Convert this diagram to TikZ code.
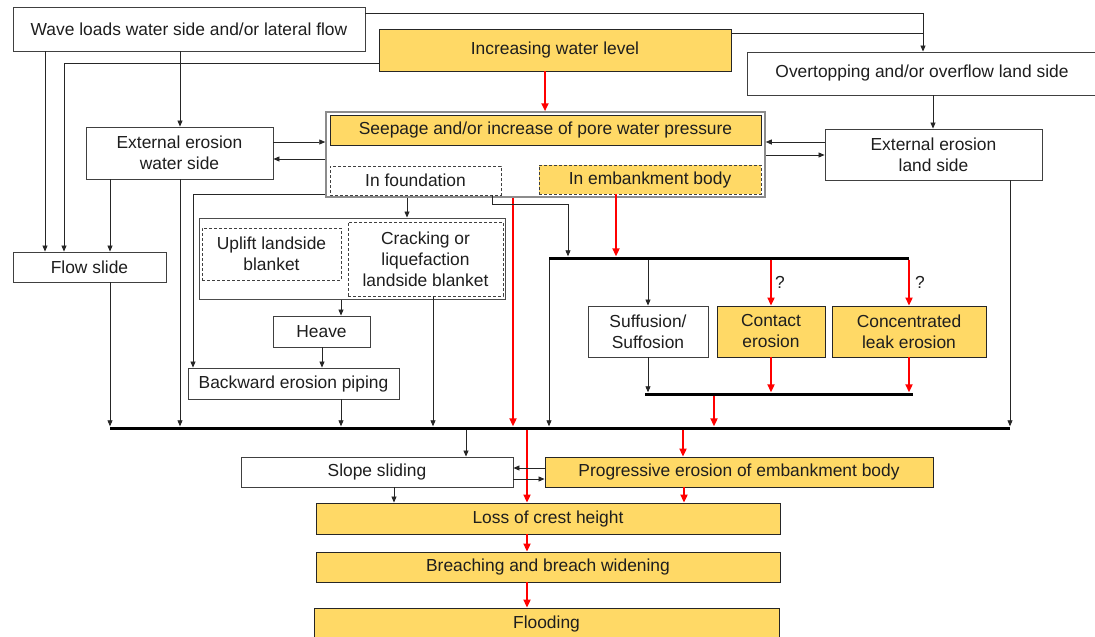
\documentclass[tikz,border=0pt]{standalone}
\usepackage{fontspec}
\setmainfont{Liberation Sans}
\usetikzlibrary{arrows.meta}
\definecolor{yel}{RGB}{255,217,102}
\definecolor{txt}{RGB}{30,30,30}
\begin{document}
\begin{tikzpicture}[x=1pt,y=-1pt,
 font=\fontsize{17.4}{21}\selectfont,
 box/.style={draw=black!75, line width=0.9pt, inner sep=0pt, align=center, text=txt, fill=white},
 ybox/.style={box, fill=yel, draw=black!85},
 dbox/.style={box, dash pattern=on 3pt off 2pt},
 sz/.style 2 args={minimum width=#1pt, minimum height=#2pt},
 bar/.style={fill=black, inner sep=0pt, minimum height=3pt},
 conn/.style={draw=black!85, line width=0.8pt},
 arr/.style={conn, -{Triangle[length=6pt,width=5pt]}},
 rline/.style={draw=red, line width=2.2pt},
 rarr/.style={rline, -{Triangle[length=8pt,width=7pt]}},
 qm/.style={inner sep=0pt, text=txt}
]
\useasboundingbox (0,0) rectangle (1095,637);
\fill[white] (0,0) rectangle (1095,637);

% top row
\node[box, sz={352}{44}] (wave) at (189,29) {Wave loads water side and/or lateral flow};
\node[ybox, sz={352}{42}] (incr) at (555,50) {Increasing water level};
\node[box, sz={350}{43}] (over) at (922,73.5) {Overtopping and/or overflow land side};

% seepage group
\node[draw=black!45, line width=1.5pt, fill=white, inner sep=0pt, sz={439}{85}] (outer) at (545.5,154.5) {};
\node[ybox, sz={431}{30}] (seep) at (545.5,130) {Seepage and/or increase of pore water pressure};
\node[dbox, sz={171}{29}] (found) at (415.5,180.5) {In foundation};
\node[dbox, fill=yel, sz={222}{29}] (emb) at (650,179.5) {In embankment body};

\node[box, sz={187}{52}] (eew) at (179.5,153) {External erosion\\water side};
\node[box, sz={217}{51}] (eel) at (933.5,154.5) {External erosion\\land side};
\node[box, sz={153}{30}] (flow) at (89.5,267) {Flow slide};

% foundation mechanisms
\node[draw=black!70, line width=1pt, fill=white, inner sep=0pt, sz={306}{81}] (grp) at (352,258.5) {};
\node[dbox, sz={139}{52}] (uplift) at (271.5,254) {Uplift landside\\blanket};
\node[dbox, sz={155}{74}] (crack) at (425.5,259) {Cracking or\\liquefaction\\landside blanket};
\node[box, sz={97}{31}] (heave) at (321.5,331.5) {Heave};
\node[box, sz={211}{31}] (bep) at (293.5,383.5) {Backward erosion piping};

% embankment mechanisms
\node[bar, minimum width=360pt] (upper) at (729,258) {};
\node[box, sz={120}{51}] (suff) at (648,331.5) {Suffusion/\\Suffosion};
\node[ybox, sz={108}{51}] (contact) at (771,331.5) {Contact\\erosion};
\node[ybox, sz={154}{51}] (conc) at (909,331.5) {Concentrated\\leak erosion};
\node[bar, minimum width=268pt] (lower) at (779,394) {};
\node[qm] (q1) at (780,282) {?};
\node[qm] (q2) at (920,282) {?};

% main bar and bottom chain
\node[bar, minimum width=900pt] (main) at (560,428) {};
\node[box, sz={272}{30}] (slope) at (377,472) {Slope sliding};
\node[ybox, sz={388}{30}] (prog) at (739,472) {Progressive erosion of embankment body};
\node[ybox, sz={464}{31}] (loss) at (548,518.5) {Loss of crest height};
\node[ybox, sz={464}{30}] (breach) at (548,567) {Breaching and breach widening};
\node[ybox, sz={465}{32}] (flood) at (546.5,624) {Flooding};

\coordinate (j1) at (923,33);

% connectors - top
\draw[arr] (wave.east |- 0,13) -| (over.north -| 923,0);
\draw[conn] (incr.east |- 0,33) -- (j1);
\draw[arr] (incr.west |- 0,63) -| (flow.north -| 64,0);
\draw[arr] (wave.south -| 45,0) -- (flow.north -| 45,0);
\draw[arr] (wave.south -| 180,0) -- (eew.north -| 180,0);
\draw[rarr] (incr.south -| 545,0) -- (outer.north -| 545,0);
\draw[arr] (eew.east |- 0,142) -- (outer.west |- 0,142);
\draw[arr] (outer.west |- 0,159) -- (eew.east |- 0,159);
\draw[arr] (eel.west |- 0,142) -- (outer.east |- 0,142);
\draw[arr] (outer.east |- 0,155) -- (eel.west |- 0,155);
\draw[arr] (over.south -| 933,0) -- (eel.north -| 933,0);
\draw[arr] (eew.south -| 110,0) -- (flow.north -| 110,0);
\draw[arr] (eew.south -| 180,0) -- (main.north -| 180,0);
\draw[arr] (flow.south -| 110,0) -- (main.north -| 110,0);

% foundation branch
\draw[arr] (outer.west |- 0,194) -| (bep.north -| 193,0);
\draw[arr] (outer.south -| 407,0) -- (grp.north -| 407,0);
\draw[arr] (grp.south -| 341,0) -- (heave.north -| 341,0);
\draw[arr] (heave.south -| 322,0) -- (bep.north -| 322,0);
\draw[arr] (bep.south -| 341,0) -- (main.north -| 341,0);
\draw[arr] (crack.south -| 433,0) -- (main.north -| 433,0);
\draw[rarr] (outer.south -| 513,0) -- (main.north -| 513,0);
\draw[arr] (found.south -| 492,0) |- (568,204) -- (upper.north -| 568,0);

% embankment branch
\draw[rarr] (emb.south -| 616,0) -- (upper.north -| 616,0);
\draw[arr] (upper.south -| 549,0) -- (main.north -| 549,0);
\draw[arr] (upper.south -| 648,0) -- (suff.north -| 648,0);
\draw[rarr] (upper.south -| 771,0) -- (contact.north);
\draw[rarr] (upper.south -| 909,0) -- (conc.north);
\draw[arr] (suff.south) -- (lower.north -| 648,0);
\draw[rarr] (contact.south) -- (lower.north -| 771,0);
\draw[rarr] (conc.south) -- (lower.north -| 909,0);
\draw[rarr] (lower.south -| 714,0) -- (main.north -| 714,0);
\draw[arr] (eel.south -| 1010,0) -- (main.north -| 1010,0);

% bottom chain
\draw[arr] (main.south -| 466,0) -- (slope.north -| 466,0);
\draw[rarr] (main.south -| 527,0) -- (loss.north -| 527,0);
\draw[rarr] (main.south -| 683,0) -- (prog.north -| 683,0);
\draw[arr] (prog.west |- 0,468) -- (slope.east |- 0,468);
\draw[arr] (slope.east |- 0,479) -- (prog.west |- 0,479);
\draw[arr] (slope.south -| 394,0) -- (loss.north -| 394,0);
\draw[rarr] (prog.south -| 684,0) -- (loss.north -| 684,0);
\draw[rarr] (loss.south -| 527,0) -- (breach.north -| 527,0);
\draw[rarr] (breach.south -| 527,0) -- (flood.north -| 527,0);
\end{tikzpicture}
\end{document}
